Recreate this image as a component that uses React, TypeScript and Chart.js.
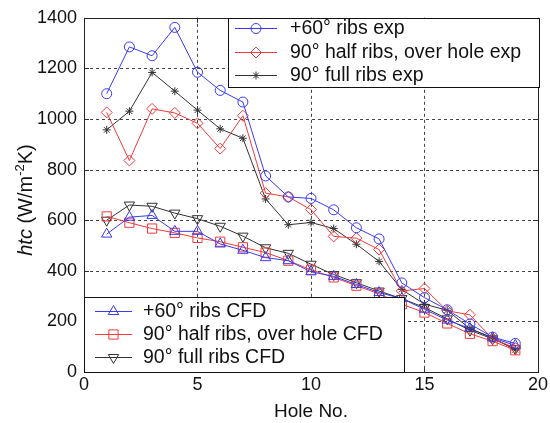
import React, { useEffect, useRef } from 'react';
import { Chart, registerables } from 'chart.js';
import { drawPoint } from 'chart.js/helpers';

Chart.register(...registerables);

// ---------- data ----------
const holes = [1, 2, 3, 4, 5, 6, 7, 8, 9, 10, 11, 12, 13, 14, 15, 16, 17, 18, 19];
const xTickValues = [0, 5, 10, 15, 20];
const yTickValues = [0, 200, 400, 600, 800, 1000, 1200, 1400];

const blueExp = [1100, 1285, 1250, 1362, 1185, 1113, 1067, 775, 692, 686, 641, 570, 526, 352, 294, 246, 190, 138, 113];
const redExp = [1026, 836, 1040, 1024, 983, 883, 1013, 707, 692, 642, 536, 529, 484, 320, 330, 242, 226, 131, 95];
const blackExp = [957, 1031, 1184, 1110, 1035, 961, 924, 684, 582, 591, 567, 505, 437, 326, 268, 244, 171, 135, 88];
const blueCFD = [545, 612, 619, 556, 556, 506, 481, 452, 440, 396, 378, 346, 314, 290, 248, 205, 172, 135, 105];
const redCFD = [615, 590, 567, 550, 530, 515, 493, 472, 440, 404, 374, 341, 309, 268, 235, 192, 151, 122, 86];
const blackCFD = [600, 660, 655, 628, 606, 576, 537, 491, 469, 426, 385, 353, 320, 290, 255, 210, 165, 131, 92];

const labels = [
  '+60° ribs exp',
  '90° half ribs, over hole exp',
  '90° full ribs exp',
  '+60° ribs CFD',
  '90° half ribs, over hole CFD',
  '90° full ribs CFD',
];

// ---------- styles ----------
const FONT = "'Liberation Sans', Arial, sans-serif";
const BLUE = '#3a3af2';
const RED = '#ee3b3b';
const BLACK = '#333333';

type Style = { color: string; pointStyle: string; radius: number; rotation: number };
const styles: Style[] = [
  { color: BLUE, pointStyle: 'circle', radius: 5, rotation: 0 },
  { color: RED, pointStyle: 'rectRot', radius: 5.5, rotation: 0 },
  { color: BLACK, pointStyle: 'star', radius: 4, rotation: 0 },
  { color: BLUE, pointStyle: 'triangle', radius: 6, rotation: 0 },
  { color: RED, pointStyle: 'rect', radius: 6.5, rotation: 0 },
  { color: BLACK, pointStyle: 'triangle', radius: 6, rotation: 180 },
];
const seriesValues = [blueExp, redExp, blackExp, blueCFD, redCFD, blackCFD];

const framePlugin = {
  id: 'frameGrid',
  beforeDatasetsDraw(chart: any) {
    const { ctx, chartArea: a, scales } = chart;
    const xs = scales.x;
    const ys = scales.y;
    ctx.save();
    // dotted grid
    ctx.strokeStyle = '#444';
    ctx.lineWidth = 1;
    ctx.setLineDash([3, 3]);
    xTickValues.forEach((v) => {
      if (v === xs.min || v === xs.max) return;
      const px = Math.round(xs.getPixelForValue(v)) + 0.5;
      ctx.beginPath();
      ctx.moveTo(px, a.top);
      ctx.lineTo(px, a.bottom);
      ctx.stroke();
    });
    yTickValues.forEach((v) => {
      if (v === ys.min || v === ys.max) return;
      const py = Math.round(ys.getPixelForValue(v)) + 0.5;
      ctx.beginPath();
      ctx.moveTo(a.left, py);
      ctx.lineTo(a.right, py);
      ctx.stroke();
    });
    ctx.setLineDash([]);
    // inner tick marks
    ctx.strokeStyle = '#333';
    xTickValues.forEach((v) => {
      const px = Math.round(xs.getPixelForValue(v)) + 0.5;
      ctx.beginPath();
      ctx.moveTo(px, a.bottom);
      ctx.lineTo(px, a.bottom - 5);
      ctx.moveTo(px, a.top);
      ctx.lineTo(px, a.top + 5);
      ctx.stroke();
    });
    yTickValues.forEach((v) => {
      const py = Math.round(ys.getPixelForValue(v)) + 0.5;
      ctx.beginPath();
      ctx.moveTo(a.left, py);
      ctx.lineTo(a.left + 5, py);
      ctx.moveTo(a.right, py);
      ctx.lineTo(a.right - 5, py);
      ctx.stroke();
    });
    // frame
    ctx.strokeStyle = '#222';
    ctx.strokeRect(Math.round(a.left) + 0.5, Math.round(a.top) + 0.5, Math.round(a.right - a.left), Math.round(a.bottom - a.top));
    ctx.restore();
  },
};

function drawLegend(
  ctx: CanvasRenderingContext2D,
  chart: any,
  idx: number[],
  box: { l: number; t: number; r: number; b: number },
  lineX1: number,
  lineX2: number,
  textX: number,
  rowY: number[]
) {
  ctx.save();
  ctx.fillStyle = '#ffffff';
  ctx.fillRect(box.l, box.t, box.r - box.l, box.b - box.t);
  ctx.strokeStyle = '#111';
  ctx.lineWidth = 1;
  ctx.strokeRect(box.l + 0.5, box.t + 0.5, box.r - box.l, box.b - box.t);
  idx.forEach((di, k) => {
    const ds = chart.data.datasets[di];
    const y = rowY[k];
    ctx.strokeStyle = ds.borderColor;
    ctx.lineWidth = 1;
    ctx.beginPath();
    ctx.moveTo(lineX1, y + 0.5);
    ctx.lineTo(lineX2, y + 0.5);
    ctx.stroke();
    ctx.fillStyle = 'rgba(0,0,0,0)';
    ctx.strokeStyle = ds.pointBorderColor;
    drawPoint(ctx, {
      pointStyle: ds.pointStyle,
      rotation: ds.pointRotation,
      radius: ds.pointRadius,
      borderWidth: 1,
    } as any, (lineX1 + lineX2) / 2, y + 0.5);
    ctx.fillStyle = '#111';
    ctx.font = `19.5px ${FONT}`;
    ctx.textBaseline = 'middle';
    ctx.textAlign = 'left';
    ctx.fillText(ds.label, textX, y + 1);
  });
  ctx.restore();
}

const overlayPlugin = {
  id: 'overlay',
  afterDraw(chart: any) {
    const { ctx, chartArea: a } = chart;
    // legends
    drawLegend(ctx, chart, [0, 1, 2], { l: 228, t: Math.round(a.top), r: Math.round(a.right) + 1, b: 87 }, 235, 277, 290, [28, 52, 75]);
    drawLegend(ctx, chart, [3, 4, 5], { l: Math.round(a.left), t: 297, r: 404, b: Math.round(a.bottom) }, 95, 132, 143, [311, 334, 357]);
    // y-axis title with italic htc and superscript
    ctx.save();
    ctx.translate(25, 200);
    ctx.rotate(-Math.PI / 2);
    ctx.fillStyle = '#111';
    ctx.textBaseline = 'alphabetic';
    ctx.textAlign = 'left';
    const parts = [
      { t: 'htc', f: `italic 20px ${FONT}`, dy: 0 },
      { t: ' (W/m', f: `20px ${FONT}`, dy: 0 },
      { t: '-2', f: `13px ${FONT}`, dy: -8 },
      { t: 'K)', f: `20px ${FONT}`, dy: 0 },
    ];
    let total = 0;
    parts.forEach((p) => {
      ctx.font = p.f;
      total += ctx.measureText(p.t).width;
    });
    let x = -total / 2;
    parts.forEach((p) => {
      ctx.font = p.f;
      ctx.fillText(p.t, x, 7 + p.dy);
      x += ctx.measureText(p.t).width;
    });
    ctx.restore();
  },
};

export default function App() {
  const ref = useRef<HTMLCanvasElement | null>(null);
  useEffect(() => {
    if (!ref.current) return;
    const datasets = seriesValues.map((vals, i) => ({
      label: labels[i],
      data: holes.map((h, j) => ({ x: h, y: vals[j] })),
      borderColor: styles[i].color,
      backgroundColor: 'rgba(0,0,0,0)',
      pointBackgroundColor: 'rgba(0,0,0,0)',
      pointBorderColor: styles[i].color,
      pointStyle: styles[i].pointStyle,
      pointRadius: styles[i].radius,
      pointRotation: styles[i].rotation,
      pointBorderWidth: 1,
      borderWidth: 1,
      tension: 0,
      fill: false,
    }));
    const chart = new Chart(ref.current, {
      type: 'line',
      data: { datasets } as any,
      options: {
        responsive: false,
        animation: false,
        layout: { padding: { top: 13, right: 11, left: 0, bottom: 0 } },
        plugins: {
          legend: { display: false },
          tooltip: { enabled: false },
        },
        scales: {
          x: {
            type: 'linear',
            min: 0,
            max: 20,
            afterBuildTicks: (s: any) => {
              s.ticks = xTickValues.map((v) => ({ value: v }));
            },
            ticks: {
              font: { family: FONT, size: 18 },
              color: '#111',
              padding: 2,
              maxRotation: 0,
              autoSkip: false,
              callback: (v: any) => String(v),
            },
            grid: { display: false, drawTicks: false },
            border: { display: false },
            title: { display: true, text: 'Hole No.', font: { family: FONT, size: 19 }, color: '#111', padding: { top: 11.5, bottom: 0 } },
            afterFit: (s: any) => {
              s.height = 51;
            },
          },
          y: {
            type: 'linear',
            min: 0,
            max: 1400,
            afterBuildTicks: (s: any) => {
              s.ticks = yTickValues.map((v) => ({ value: v }));
            },
            ticks: {
              font: { family: FONT, size: 18 },
              color: '#111',
              padding: 7,
              autoSkip: false,
              callback: (v: any) => String(v),
            },
            grid: { display: false, drawTicks: false },
            border: { display: false },
            afterFit: (s: any) => {
              s.width = 84;
            },
          },
        } as any,
      },
      plugins: [framePlugin, overlayPlugin],
    });
    return () => chart.destroy();
  }, []);
  return (
    <div style={{ position: 'fixed', left: 0, top: 0, width: 550, height: 423, background: '#fff' }}>
      <canvas ref={ref} width={550} height={423} style={{ display: 'block' }} />
    </div>
  );
}
